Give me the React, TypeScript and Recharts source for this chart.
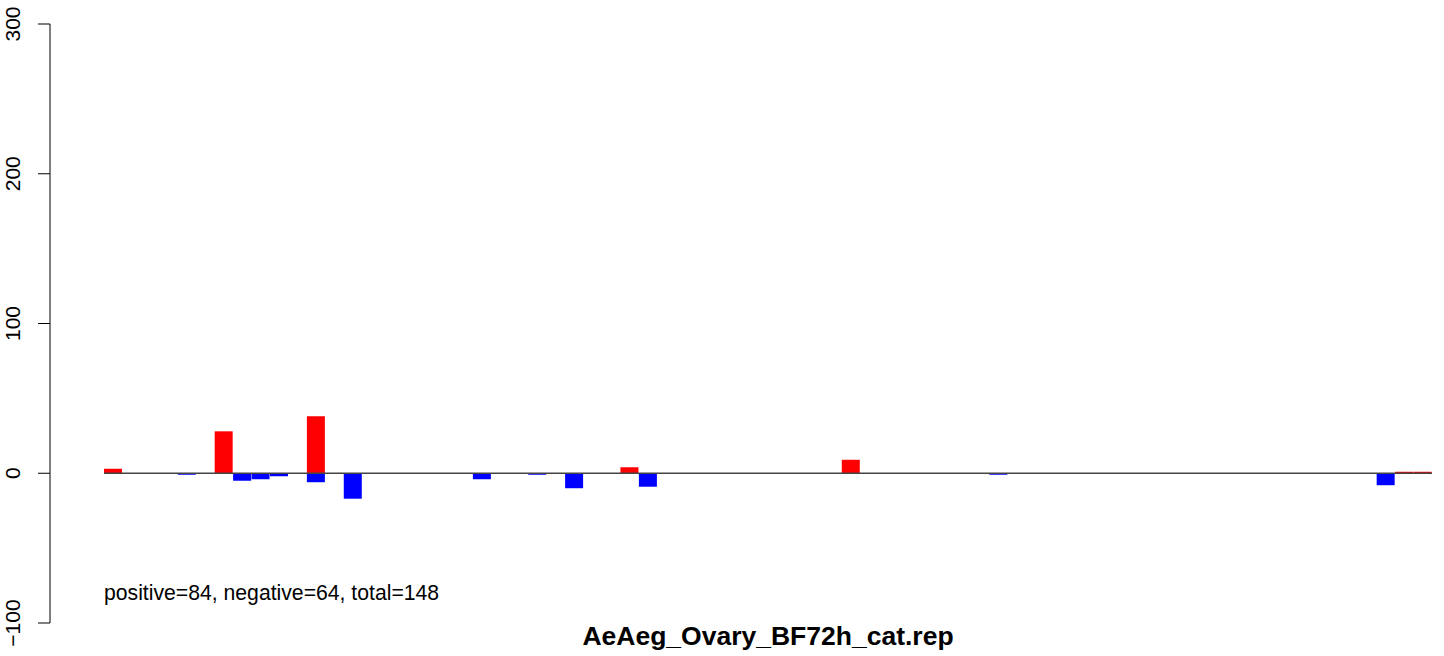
import React from 'react';
import { BarChart, Bar, XAxis, YAxis, ReferenceLine } from 'recharts';

// 72 category slots, left to right
const slots = Array.from({ length: 72 }, (_, i) => i + 1);

// red bars (positive side)
const upCounts = [
  3, 0, 0, 0, 0, 0, 28, 0, 0, 0, 0, 38,
  0, 0, 0, 0, 0, 0, 0, 0, 0, 0, 0, 0,
  0, 0, 0, 0, 4, 0, 0, 0, 0, 0, 0, 0,
  0, 0, 0, 0, 9, 0, 0, 0, 0, 0, 0, 0,
  0, 0, 0, 0, 0, 0, 0, 0, 0, 0, 0, 0,
  0, 0, 0, 0, 0, 0, 0, 0, 0, 0, 1, 1,
];

// blue bars (negative side)
const downCounts = [
  0, 0, 0, 0, -1, 0, 0, -5, -4, -2, 0, -6,
  0, -17, 0, 0, 0, 0, 0, 0, -4, 0, 0, -1,
  0, -10, 0, 0, 0, -9, 0, 0, 0, 0, 0, 0,
  0, 0, 0, 0, 0, 0, 0, 0, 0, 0, 0, 0,
  -1, 0, 0, 0, 0, 0, 0, 0, 0, 0, 0, 0,
  0, 0, 0, 0, 0, 0, 0, 0, 0, -8, 0, 0,
];

const yTicks = [-100, 0, 100, 200, 300];

const summary = 'positive=84, negative=64, total=148';
const title = 'AeAeg_Ovary_BF72h_cat.rep';

const rows = slots.map((slot, i) => ({ slot, up: upCounts[i], down: downCounts[i] }));

const font = '"Liberation Sans", Arial, Helvetica, sans-serif';

const fmt = (v: number) => (v < 0 ? '\u2212' + Math.abs(v) : String(v));

const RotatedTick = (props: any) => {
  const { x, y, payload } = props;
  return (
    <text
      x={x}
      y={y}
      transform={`rotate(-90, ${x}, ${y})`}
      textAnchor="middle"
      fontSize={21}
      fontFamily={font}
      fill="#000"
    >
      {fmt(payload.value)}
    </text>
  );
};

const App = () => {
  return (
    <div style={{ position: 'absolute', left: 0, top: 0, width: 1444, height: 656, background: '#fff' }}>
      <BarChart
        width={1444}
        height={656}
        data={rows}
        margin={{ top: 24, right: 12, bottom: 33, left: 0 }}
        stackOffset="sign"
        barCategoryGap={0}
      >
        <XAxis
          type="number"
          dataKey="slot"
          domain={[0.5, 72.5]}
          allowDataOverflow
          padding={{ left: 54, right: 0 }}
          hide
        />
        <YAxis
          width={50}
          domain={[-100, 300]}
          ticks={yTicks}
          allowDataOverflow
          tickSize={12}
          tickMargin={18}
          axisLine={{ stroke: '#000', strokeWidth: 1 }}
          tickLine={{ stroke: '#000', strokeWidth: 1 }}
          tick={<RotatedTick />}
        />
        <ReferenceLine
          segment={[
            { x: 0.5, y: 0 },
            { x: 72.5, y: 0 },
          ]}
          stroke="#444"
          strokeWidth={1.3}
        />
        <Bar dataKey="up" stackId="s" fill="#ff0000" isAnimationActive={false} />
        <Bar dataKey="down" stackId="s" fill="#0000ff" isAnimationActive={false} />
      </BarChart>
      <svg
        width={1444}
        height={656}
        style={{ position: 'absolute', left: 0, top: 0, pointerEvents: 'none' }}
      >
        <text x={104} y={600} fontSize={21.2} fontFamily={font} fill="#000">
          {summary}
        </text>
        <text x={768} y={645} textAnchor="middle" fontSize={26.5} fontWeight="bold" fontFamily={font} fill="#000">
          {title}
        </text>
      </svg>
    </div>
  );
};

export default App;
